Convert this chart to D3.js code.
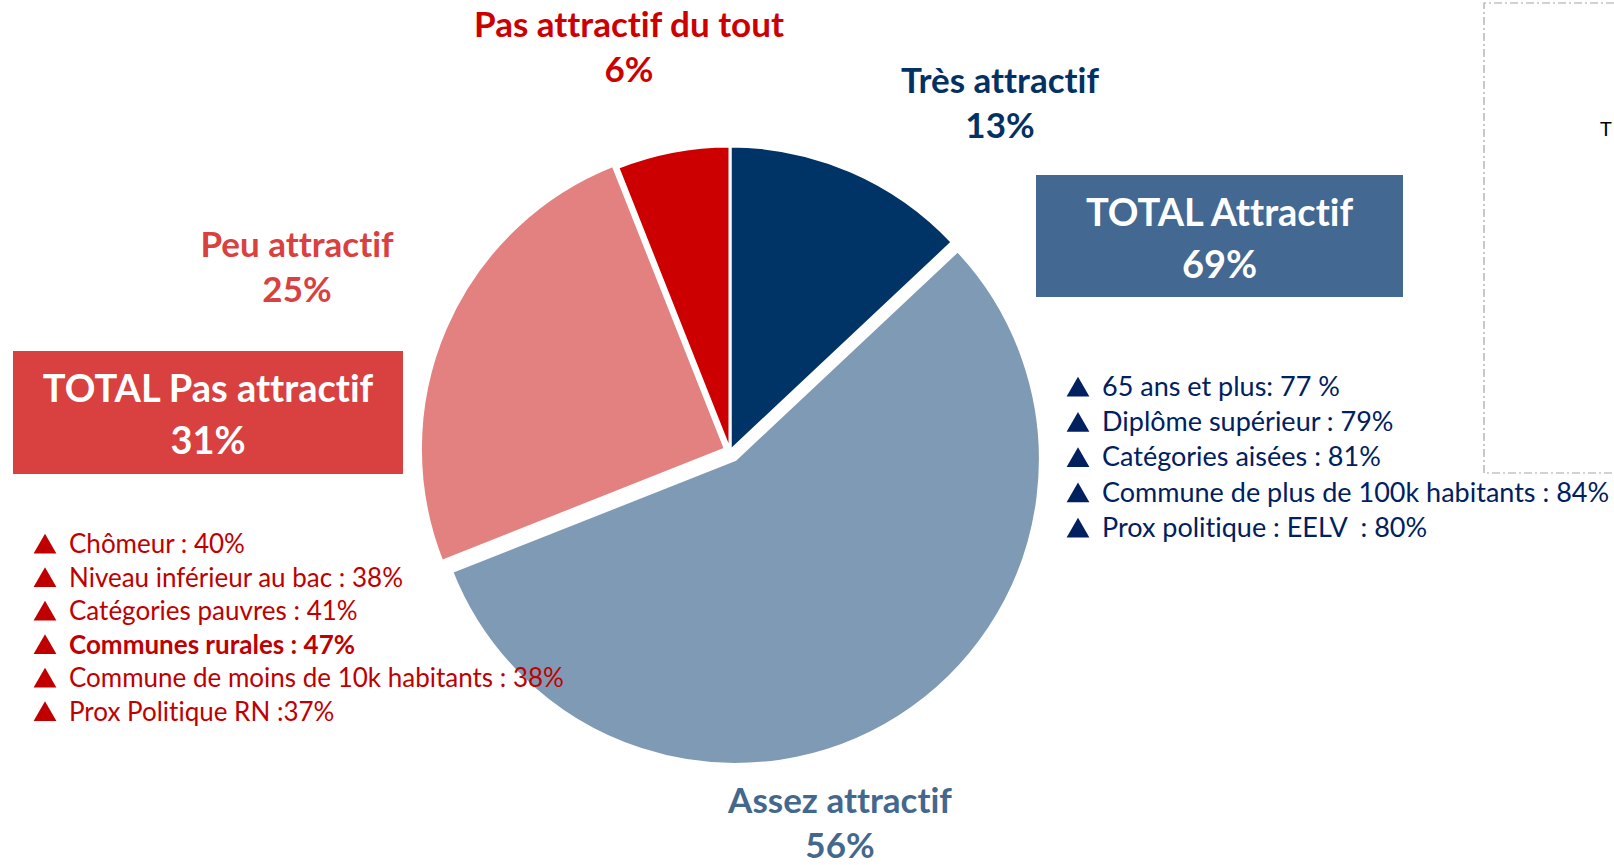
<!DOCTYPE html>
<meta charset="utf-8">
<style>
    body { margin: 0; background: #fff; }
    svg { display: block; font-family: Lato, "Open Sans", sans-serif; font-variant-ligatures: none; }
    .slice-label { font-weight: bold; font-size: 35px; text-anchor: middle; }
    .total-label { font-weight: bold; font-size: 38px; text-anchor: middle; fill: #fff; }
    .item { white-space: pre; }
</style>
<svg width="1614" height="865"></svg>
<script src="https://d3js.org/d3.v7.min.js"></script>
<script>

    // data
    var categories = ["Très attractif", "Assez attractif", "Peu attractif", "Pas attractif du tout"];
    var values = [13, 56, 25, 6];

    var totalLabels = ["TOTAL Attractif", "TOTAL Pas attractif"];
    var totalValues = [69, 31];

    var redItems = ["Chômeur : 40%", "Niveau inférieur au bac : 38%", "Catégories pauvres : 41%",
        "Communes rurales : 47%", "Commune de moins de 10k habitants : 38%", "Prox Politique RN :37%"];
    var redBold = [false, false, false, true, false, false];
    var blueItems = ["65 ans et plus: 77 %", "Diplôme supérieur : 79%", "Catégories aisées : 81%",
        "Commune de plus de 100k habitants : 84%", "Prox politique : EELV  : 80%"];

    var svg = d3.select("svg"),
        cx = 730, cy = 451, radius = 305;

    var fill = d3.scaleOrdinal().domain(categories)
        .range(["#003366", "#7f9ab4", "#e38080", "#cc0000"]);
    var textColor = d3.scaleOrdinal().domain(categories)
        .range(["#043163", "#44688d", "#d94141", "#cc0000"]);
    // how far each slice is pulled out
    var explode = d3.scaleOrdinal().domain(categories).range([0, 10, 5, 0]);

    var pie = d3.pie().sort(null).value(function(d) { return d.value; });
    var arc = d3.arc().innerRadius(0).outerRadius(radius);

    var arcs = pie(categories.map(function(c, i) { return {name: c, value: values[i]}; }));

    var g = svg.append("g").attr("transform", "translate(" + cx + "," + cy + ")");

    g.selectAll("path")
        .data(arcs)
        .enter().append("path")
        .attr("d", arc)
        .attr("fill", function(d) { return fill(d.data.name); })
        .attr("stroke", "#fff")
        .attr("stroke-width", 3)
        .attr("transform", function(d) {
            var a = (d.startAngle + d.endAngle) / 2, e = explode(d.data.name);
            return "translate(" + (Math.sin(a) * e) + "," + (-Math.cos(a) * e) + ")";
        });

    // label anchors (layout only)
    var labelPos = {
        "Très attractif": [1000, 93],
        "Assez attractif": [840, 813],
        "Peu attractif": [297, 257],
        "Pas attractif du tout": [629, 37]
    };

    var labels = svg.selectAll(".slice-label")
        .data(arcs)
        .enter().append("text")
        .attr("class", "slice-label")
        .attr("fill", function(d) { return textColor(d.data.name); })
        .attr("transform", function(d) { return "translate(" + labelPos[d.data.name] + ")"; });
    labels.append("tspan").attr("x", 0).attr("y", 0).text(function(d) { return d.data.name; });
    labels.append("tspan").attr("x", 0).attr("y", 45).text(function(d) { return d.data.value + "%"; });

    // total boxes
    var boxes = [
        {x: 1036, y: 175, w: 367, h: 122, color: "#436891"},
        {x: 13, y: 351, w: 390, h: 123, color: "#d94040"}
    ];
    boxes.forEach(function(b, i) {
        svg.append("rect")
            .attr("x", b.x).attr("y", b.y).attr("width", b.w).attr("height", b.h)
            .attr("fill", b.color);
        var t = svg.append("text").attr("class", "total-label");
        t.append("tspan").attr("x", b.x + b.w / 2).attr("y", b.y + 51).text(totalLabels[i]);
        t.append("tspan").attr("x", b.x + b.w / 2).attr("y", b.y + 103).text(totalValues[i] + "%");
    });

    // bullet lists
    var tri = d3.symbol().type(d3.symbolTriangle).size(225);

    function list(items, x0, y0, step, color, size, bold) {
        var rows = svg.append("g").selectAll("g")
            .data(items)
            .enter().append("g")
            .attr("transform", function(d, i) { return "translate(" + x0 + "," + (y0 + i * step) + ")"; });
        rows.append("path")
            .attr("d", tri)
            .attr("transform", "translate(-24,-6)")
            .attr("fill", color);
        rows.append("text")
            .attr("class", "item")
            .attr("font-size", size)
            .attr("fill", color)
            .attr("font-weight", function(d, i) { return bold && bold[i] ? "bold" : null; })
            .text(function(d) { return d; });
    }

    list(redItems, 69, 553, 33.5, "#c00000", 26, redBold);
    list(blueItems, 1102, 396, 35.2, "#002060", 27);

    // dashed frame of the neighbouring object, cut by the page edge
    svg.append("path")
        .attr("d", "M1614,3H1484V473H1614")
        .attr("fill", "none")
        .attr("stroke", "#a6a6a6")
        .attr("stroke-width", 1.2)
        .attr("stroke-dasharray", "8,3,2,3");

    svg.append("text")
        .attr("x", 1600).attr("y", 136)
        .attr("font-size", 20)
        .attr("fill", "#000")
        .text("T");

</script>
